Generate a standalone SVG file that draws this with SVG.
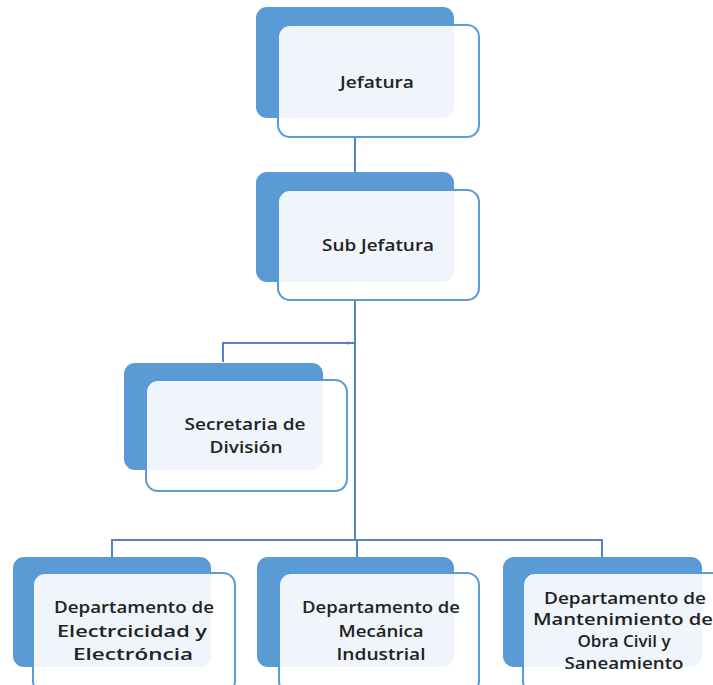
<svg xmlns="http://www.w3.org/2000/svg" width="713" height="685" viewBox="0 0 713 685">
  <style>
    .back { fill: #5b9bd5; }
    .front { fill: #ffffff; fill-opacity: 0.9; stroke: #5b9bd5; stroke-width: 2; }
    .conn { fill: none; stroke: #5684c3; stroke-width: 2; }
    .lbl { font-family: "Open Sans", "Liberation Sans", sans-serif; font-weight: 600; font-size: 17px; fill: #222222; text-anchor: middle; }
  </style>
  <rect width="713" height="685" fill="#ffffff"/>

  <!-- connectors -->
  <g id="connectors">
    <path class="conn" d="M355,137 V190"/>
    <path class="conn" d="M355,300 V540"/>
    <path class="conn" d="M355,343 H223 V362"/>
    <circle cx="348" cy="343" r="1.6" fill="#5684c3"/>
    <path class="conn" d="M112,557 V540 H602 V557"/>
    <path class="conn" d="M357,540 V557"/>
  </g>

  <!-- top node -->
  <g id="jefatura">
    <rect class="back" x="256" y="7" width="198" height="111" rx="11"/>
    <rect class="front" x="278" y="25" width="201" height="112" rx="12"/>
    <text class="lbl" x="377" y="88" textLength="74" lengthAdjust="spacingAndGlyphs">Jefatura</text>
  </g>

  <g id="sub-jefatura">
    <rect class="back" x="256" y="172" width="198" height="110" rx="11"/>
    <rect class="front" x="278" y="190" width="201" height="110" rx="12"/>
    <text class="lbl" x="378" y="251" textLength="112" lengthAdjust="spacingAndGlyphs">Sub Jefatura</text>
  </g>

  <g id="secretaria">
    <rect class="back" x="124" y="363" width="199" height="107" rx="11"/>
    <rect class="front" x="146" y="380" width="201" height="111" rx="12"/>
    <text class="lbl" x="245" y="430" textLength="121" lengthAdjust="spacingAndGlyphs">Secretaria de</text>
    <text class="lbl" x="246" y="453" textLength="73" lengthAdjust="spacingAndGlyphs">División</text>
  </g>

  <g id="dep-electricidad">
    <rect class="back" x="13" y="557" width="198" height="110" rx="11"/>
    <rect class="front" x="33" y="573" width="202" height="120" rx="12"/>
    <text class="lbl" x="134" y="613" textLength="160" lengthAdjust="spacingAndGlyphs">Departamento de</text>
    <text class="lbl" x="132" y="637" textLength="150" lengthAdjust="spacingAndGlyphs">Electrcicidad y</text>
    <text class="lbl" x="133" y="660" textLength="120" lengthAdjust="spacingAndGlyphs">Electróncia</text>
  </g>

  <g id="dep-mecanica">
    <rect class="back" x="257" y="557" width="197" height="110" rx="11"/>
    <rect class="front" x="279" y="573" width="200" height="120" rx="12"/>
    <text class="lbl" x="381" y="613" textLength="158" lengthAdjust="spacingAndGlyphs">Departamento de</text>
    <text class="lbl" x="381" y="637" textLength="85" lengthAdjust="spacingAndGlyphs">Mecánica</text>
    <text class="lbl" x="381" y="660" textLength="89" lengthAdjust="spacingAndGlyphs">Industrial</text>
  </g>

  <g id="dep-obra-civil">
    <rect class="back" x="503" y="557" width="199" height="110" rx="11"/>
    <rect class="front" x="523" y="573" width="202" height="120" rx="12"/>
    <text class="lbl" x="625" y="604" textLength="162" lengthAdjust="spacingAndGlyphs">Departamento de</text>
    <text class="lbl" x="623" y="625" textLength="180" lengthAdjust="spacingAndGlyphs">Mantenimiento de</text>
    <text class="lbl" x="624" y="647" textLength="93" lengthAdjust="spacingAndGlyphs">Obra Civil y</text>
    <text class="lbl" x="624" y="669" textLength="119" lengthAdjust="spacingAndGlyphs">Saneamiento</text>
  </g>
</svg>
